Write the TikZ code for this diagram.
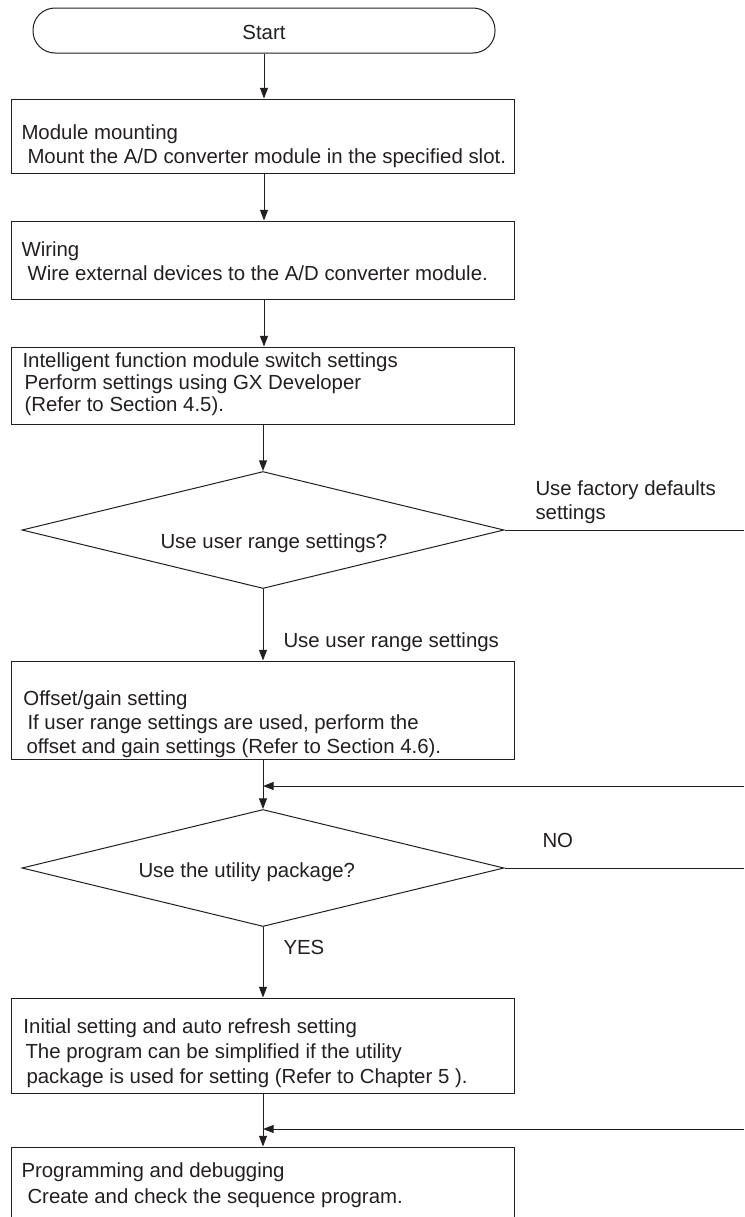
\documentclass[tikz,border=0pt]{standalone}
\usepackage{fontspec}
\setmainfont{Liberation Sans}
\usetikzlibrary{positioning,arrows.meta,shapes.geometric,fit}
\definecolor{ink}{RGB}{35,31,32}

\begin{document}
\begin{tikzpicture}[x=0.75pt, y=-0.75pt, line width=0.75pt, color=ink,
    font=\fontsize{15.3}{18}\selectfont,
    box/.style={draw, rectangle, inner sep=0pt},
    term/.style={draw, rectangle, rounded corners=16.5pt, inner sep=0pt},
    decision/.style={draw, diamond, inner sep=0pt, minimum width=361.5pt, minimum height=87.75pt},
    txt/.style={anchor=base west, inner sep=0pt},
    arr/.style={-{Triangle[length=8pt,width=6pt]}}]
				\useasboundingbox (0,0) rectangle (744,1217);
				\coordinate (edgeR) at (744,0);
				
				% start
				\node[term, fit={(33,8) (495,53)}] (start) {};
				\node[anchor=base] (startT) at (264,39) {Start};
				
				% module mounting
				\node[box, fit={(11,99) (514,173)}] (mount) {};
				\node[txt] (mountA) at (21,139) {Module mounting};
				\node[txt] (mountB) at (27,163) {Mount the A/D converter module in the specified slot.};
				
				% wiring
				\node[box, fit={(11,221) (514,299)}] (wire) {};
				\node[txt] (wireA) at (21,256) {Wiring};
				\node[txt] (wireB) at (27,280) {Wire external devices to the A/D converter module.};
				
				% switch settings
				\node[box, fit={(11,347) (514,424)}] (switch) {};
				\node[txt] (switchA) at (22,367) {Intelligent function module switch settings};
				\node[txt] (switchB) at (24,389) {Perform settings using GX Developer};
				\node[txt] (switchC) at (24,411) {(Refer to Section 4.5).};
				
				% user range decision
				\node[decision] (range) at (263,530) {};
				\node[txt] (rangeT) at (160,548) {Use user range settings?};
				\node[txt] (dfltA) at (535,495) {Use factory defaults};
				\node[txt] (dfltB) at (535,519) {settings};
				\node[txt] (userL) at (283,647) {Use user range settings};
				
				% offset/gain
				\node[box, fit={(11,661) (514,759)}] (offset) {};
				\node[txt] (offsetA) at (23,705) {Offset/gain setting};
				\node[txt] (offsetB) at (27,729) {If user range settings are used, perform the};
				\node[txt] (offsetC) at (26,753) {offset and gain settings (Refer to Section 4.6).};
				
				% utility package decision
				\coordinate (ret1) at (744,786);
				\node[decision] (util) at (263,868) {};
				\node[txt] (utilT) at (138,877) {Use the utility package?};
				\node[txt] (noL) at (542,847) {NO};
				\node[txt] (yesL) at (283,954) {YES};
				
				% initial setting
				\node[box, fit={(11,998) (514,1093)}] (init) {};
				\node[txt] (initA) at (23,1033) {Initial setting and auto refresh setting};
				\node[txt] (initB) at (25,1058) {The program can be simplified if the utility};
				\node[txt] (initC) at (26,1083) {package is used for setting (Refer to Chapter 5 ).};
				
				% programming
				\coordinate (ret2) at (744,1129);
				\node[box, fit={(11,1147) (514,1240)}] (prog) {};
				\node[txt] (progA) at (21,1177) {Programming and debugging};
				\node[txt] (progB) at (27,1203) {Create and check the sequence program.};
				
				% connectors
				\draw[arr] (start.south) -- (mount.north -| start.south);
				\draw[arr] (mount.south -| start.south) -- (wire.north -| start.south);
				\draw[arr] (wire.south -| start.south) -- (switch.north -| start.south);
				\draw[arr] (switch.south -| range.north) -- (range.north);
				\draw (range.east) -- (range.east -| edgeR);
				\draw[arr] (range.south) -- (offset.north -| range.south);
				\draw[arr] (offset.south -| util.north) -- (util.north);
				\coordinate (join1) at (ret1 -| util.north);
				\draw[arr] (ret1) -- (join1);
				\draw (util.east) -- (util.east -| edgeR);
				\draw[arr] (util.south) -- (init.north -| util.south);
				\coordinate (join2) at (ret2 -| util.south);
				\draw[arr] (init.south -| util.south) -- (prog.north -| util.south);
				\draw[arr] (ret2) -- (join2);
			\end{tikzpicture}
\end{document}
